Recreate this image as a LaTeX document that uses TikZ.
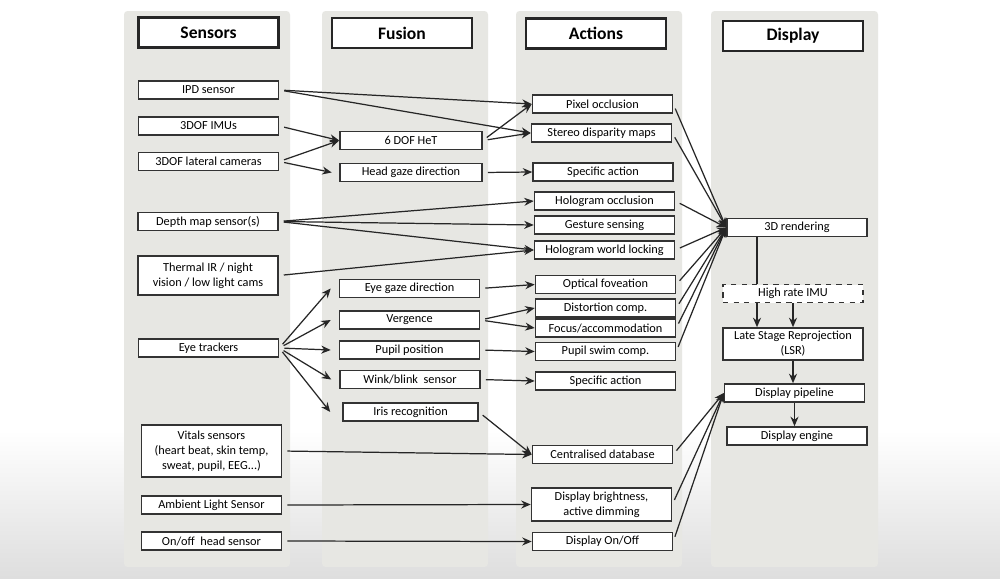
\documentclass[tikz,border=0pt]{standalone}
\usepackage{fontspec}
\setmainfont{Carlito}
\usepackage{xcolor}
\usepackage{tikz}
\usetikzlibrary{arrows.meta}
\definecolor{panelgray}{RGB}{231,231,227}
\tikzset{
  flowarrow/.style={-{Stealth[length=1.9mm, width=1.6mm]}, line width=0.7pt,
    draw=black!85, shorten <=1mm},
  flowdown/.style={-{Stealth[length=1.9mm, width=1.6mm]}, line width=0.8pt,
    draw=black!85},
  flowline/.style={line width=0.8pt, draw=black!85},
  flowbox/.style={draw=black!80, fill=white, line width=0.9pt,
    minimum width=2.8cm, minimum height=3.6mm, inner sep=1pt, align=center,
    font=\fontsize{7}{8.6}\selectfont},
  flowdash/.style={flowbox, dashed},
  flowhead/.style={draw=black!85, fill=white, line width=1.3pt,
    minimum width=2.8cm, minimum height=6mm, inner sep=1pt,
    font=\fontsize{10}{12}\selectfont\bfseries},
  flowpanel/.style={fill=panelgray, rounded corners=2pt}
}

\begin{document}
\begin{tikzpicture}[x=0.02cm, y=-0.02cm]
  \useasboundingbox (0,0) rectangle (1000,578);
  \fill[white] (0,0) rectangle (1000,578);
  \shade[top color=white, bottom color=black!13] (0,430) rectangle (1000,578);
  \fill[flowpanel] (124,11) rectangle (290,567);
  \fill[flowpanel] (322,11) rectangle (488,567);
  \fill[flowpanel] (516,11) rectangle (682,567);
  \fill[flowpanel] (711,11) rectangle (878,567);

  \node[flowhead] (hsens) at (208.5,32.5) {Sensors};
  \node[flowhead] (hfus) at (402,33) {Fusion};
  \node[flowhead] (hact) at (596,33.5) {Actions};
  \node[flowhead] (hdisp) at (793,36) {Display};

  \node[flowbox] (ipd) at (208.5,90) {IPD sensor};
  \node[flowbox] (imu) at (208.5,126) {3DOF IMUs};
  \node[flowbox] (latcam) at (208.5,161.5) {3DOF lateral cameras};
  \node[flowbox] (depth) at (208,221.5) {Depth map sensor(s)};
  \node[flowbox, minimum height=7.8mm] (thermal) at (208,275.5)
    {Thermal IR / night\\vision / low light cams};
  \node[flowbox] (eyetr) at (208.5,348) {Eye trackers};
  \node[flowbox, minimum height=10.4mm] (vitals) at (211.5,451)
    {Vitals sensors\\(heart beat, skin temp,\\sweat, pupil, EEG...)};
  \node[flowbox] (ambient) at (211.5,505) {Ambient Light Sensor};
  \node[flowbox] (onoff) at (211.5,541) {On/off\ \ head sensor};

  \node[flowbox, minimum width=2.84cm] (het) at (411,140.5) {6 DOF HeT};
  \node[flowbox, minimum width=2.84cm] (headgaze) at (411,172.5)
    {Head gaze direction};
  \node[flowbox] (eyegaze) at (409.5,288.5) {Eye gaze direction};
  \node[flowbox] (vergence) at (409.5,320) {Vergence};
  \node[flowbox] (pupilpos) at (409.5,350) {Pupil position};
  \node[flowbox] (wink) at (410,379.5) {Wink/blink\ \ sensor};
  \node[flowbox, minimum width=2.7cm] (iris) at (410.5,412)
    {Iris recognition};

  \node[flowbox] (pixocc) at (602.5,104) {Pixel occlusion};
  \node[flowbox] (stereo) at (601.5,133) {Stereo disparity maps};
  \node[flowbox] (specact) at (603,172) {Specific action};
  \node[flowbox] (holocc) at (604.5,201) {Hologram occlusion};
  \node[flowbox] (gesture) at (604.5,225) {Gesture sensing};
  \node[flowbox] (hololock) at (604.5,250) {Hologram world locking};
  \node[flowbox] (foveat) at (605.5,284.5) {Optical foveation};
  \node[flowbox] (distort) at (605.5,308) {Distortion comp.};
  \node[flowbox] (focus) at (605.5,328) {Focus/accommodation};
  \node[flowbox] (pupilswim) at (605.5,351.5) {Pupil swim comp.};
  \node[flowbox] (specactb) at (605.5,381) {Specific action};
  \node[flowbox] (cdb) at (602.5,454.5) {Centralised database};
  \node[flowbox, minimum height=6.6mm] (bright) at (601.5,504.5)
    {Display brightness,\\active dimming};
  \node[flowbox] (dispon) at (602.5,541.5) {Display On/Off};

  \node[flowbox] (render) at (797,227.5) {3D rendering};
  \node[flowdash] (himu) at (793,293.5) {High rate IMU};
  \node[flowbox, minimum height=6.4mm] (lsr) at (793,344)
    {Late Stage Reprojection\\(LSR)};
  \node[flowbox] (pipe) at (794.5,393) {Display pipeline};
  \node[flowbox] (engine) at (797,436) {Display engine};

  \draw[flowarrow] (ipd.east) -- (pixocc.west);
  \draw[flowarrow] (ipd.east) -- (stereo.west);
  \draw[flowarrow] (imu.east) -- (het.west);
  \draw[flowarrow] (latcam.east) -- (het.west);
  \draw[flowarrow] (latcam.east) -- ([xshift=-1.5mm]headgaze.west);
  \draw[flowarrow] (het.east) -- (pixocc.west);
  \draw[flowarrow] (het.east) -- (stereo.west);
  \draw[flowarrow] (headgaze.east) -- (specact.west);
  \draw[flowarrow] (depth.east) -- (holocc.west);
  \draw[flowarrow] (depth.east) -- (gesture.west);
  \draw[flowarrow] (depth.east) -- (hololock.west);
  \draw[flowarrow] (thermal.east) -- (hololock.west);
  \draw[flowarrow] (eyetr.east) -- ([xshift=-1.6mm]eyegaze.west);
  \draw[flowarrow] (eyetr.east) -- ([xshift=-1.6mm]vergence.west);
  \draw[flowarrow] (eyetr.east) -- ([xshift=-1.6mm]pupilpos.west);
  \draw[flowarrow] (eyetr.east) -- ([xshift=-1.6mm]wink.west);
  \draw[flowarrow] (eyetr.east) -- ([xshift=-2.4mm]iris.west);
  \draw[flowarrow] (eyegaze.east) -- (foveat.west);
  \draw[flowarrow] (vergence.east) -- (distort.west);
  \draw[flowarrow] (vergence.east) -- (focus.west);
  \draw[flowarrow] (pupilpos.east) -- (pupilswim.west);
  \draw[flowarrow] (wink.east) -- (specactb.west);
  \draw[flowarrow] (iris.east) -- (cdb.west);
  \draw[flowarrow] (vitals.east) -- (cdb.west);
  \draw[flowarrow] (ambient.east) -- (bright.west);
  \draw[flowarrow] (onoff.east) -- (dispon.west);

  \draw[flowarrow] (pixocc.east) -- (render.west);
  \draw[flowarrow] (stereo.east) -- (render.west);
  \draw[flowarrow] (holocc.east) -- (render.west);
  \draw[flowarrow] (hololock.east) -- (render.west);
  \draw[flowarrow] (foveat.east) -- (render.west);
  \draw[flowarrow] (distort.east) -- (render.west);
  \draw[flowarrow] (focus.east) -- (render.west);
  \draw[flowarrow] (pupilswim.east) -- (render.west);
  \draw[flowarrow] (cdb.east) -- (pipe.west);
  \draw[flowarrow] (bright.east) -- (pipe.west);
  \draw[flowarrow] (dispon.east) -- (pipe.west);

  \draw[flowline] ([xshift=-8mm]render.south)
    -- ([xshift=-8mm]render.south |- himu.north);
  \draw[flowdown] ([xshift=-7.2mm]himu.south)
    -- ([xshift=-7.2mm]himu.south |- lsr.north);
  \draw[flowdown] (himu.south) -- (himu.south |- lsr.north);
  \draw[flowdown] (lsr.south) -- (lsr.south |- pipe.north);
  \draw[flowdown] (pipe.south) -- (pipe.south |- engine.north);
\end{tikzpicture}
\end{document}
